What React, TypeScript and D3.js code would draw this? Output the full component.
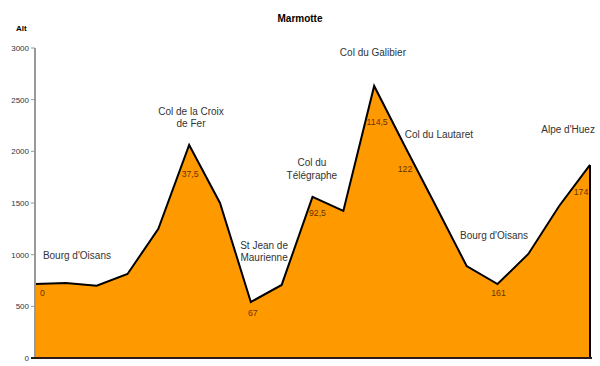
import React from "react";
import * as d3 from "d3";

// Altitude profile (m) at equally spaced points
const altitudes = [716, 726, 700, 813, 1250, 2062, 1500, 542, 707, 1560, 1423, 2633, 2047, 1471, 890, 716, 1007, 1471, 1868];

// Distance labels (km) attached to profile points
const distIndex = [0, 5, 7, 9, 11, 12, 15, 18];
const distLabels = ["0", "37,5", "67", "92,5", "114,5", "122", "161", "174"];
// label offsets in px relative to the point (layout)
const distDx = [5, 1, 2, 5, 3, 0, 1, -9];
const distDy = [12, 32, 14, 19, 39, 26, 12, 30];

// Place-name annotations, positioned in data units (point index, altitude)
const placeNames = [
  ["Bourg d'Oisans"],
  ["Col de la Croix", "de Fer"],
  ["St Jean de", "Maurienne"],
  ["Col du", "Télégraphe"],
  ["Col du Galibier"],
  ["Col du Lautaret"],
  ["Bourg d'Oisans"],
  ["Alpe d'Huez"],
];
const placeIdx = [1.36, 5.06, 7.43, 8.98, 10.96, 13.1, 14.89, 17.29];
const placeAlt = [958, 2352, 1055, 1858, 2923, 2129, 1152, 2177];

const yTicks = [0, 500, 1000, 1500, 2000, 2500, 3000];

const W = 600;
const H = 366;
const left = 35;
const right = 590;
const top = 48;
const bottom = 358;

export default function App() {
  const x = d3.scaleLinear().domain([0, altitudes.length - 1]).range([left, right]);
  const y = d3.scaleLinear().domain([0, 3000]).range([bottom, top]);

  const area = d3
    .area<number>()
    .x((_, i) => x(i))
    .y0(y(0))
    .y1((d) => y(d));
  const line = d3
    .line<number>()
    .x((_, i) => x(i))
    .y((d) => y(d));

  const font = "Arial, 'Liberation Sans', sans-serif";

  return (
    <svg
      width={W}
      height={H}
      style={{ position: "absolute", left: 0, top: 0, background: "#fff" }}
      fontFamily={font}
    >
      <text x={300} y={22} textAnchor="middle" fontSize={10} fontWeight="bold" fill="#000">
        Marmotte
      </text>
      <text x={16} y={31} fontSize={8} fontWeight="bold" fill="#000">
        Alt
      </text>

      {/* area */}
      <path d={area(altitudes) ?? ""} fill="#FF9900" stroke="none" />
      <path
        d={
          (line(altitudes) ?? "") +
          `M${x(0)},${y(altitudes[0])}L${x(0)},${y(0)}M${x(altitudes.length - 1)},${y(altitudes[altitudes.length - 1])}L${x(altitudes.length - 1)},${y(0)}`
        }
        fill="none"
        stroke="#000"
        strokeWidth={2}
        strokeLinejoin="miter"
      />

      {/* y axis */}
      <line x1={left} x2={left} y1={top} y2={bottom} stroke="#999" strokeWidth={2} />
      {yTicks.map((t) => (
        <g key={t}>
          <line x1={left - 4} x2={left} y1={y(t)} y2={y(t)} stroke="#999" strokeWidth={1} />
          <text x={left - 6} y={y(t) + 3} textAnchor="end" fontSize={8} fill="#333344">
            {t}
          </text>
        </g>
      ))}
      {/* x axis */}
      <line x1={left - 4} x2={right + 2} y1={bottom} y2={bottom} stroke="#2a1a1a" strokeWidth={2} />

      {/* distance labels */}
      {distIndex.map((idx, k) => (
        <text
          key={k}
          x={x(idx) + distDx[k]}
          y={y(altitudes[idx]) + distDy[k]}
          textAnchor={k === 0 ? "start" : "middle"}
          fontSize={8.7}
          fill="#663300"
        >
          {distLabels[k]}
        </text>
      ))}

      {/* place names */}
      {placeNames.map((lines, k) => (
        <text key={k} x={x(placeIdx[k])} y={y(placeAlt[k])} textAnchor="middle" fontSize={10} fill="#333">
          {lines.map((l, j) => (
            <tspan key={j} x={x(placeIdx[k])} dy={j === 0 ? 0 : 12.5}>
              {l}
            </tspan>
          ))}
        </text>
      ))}
    </svg>
  );
}
